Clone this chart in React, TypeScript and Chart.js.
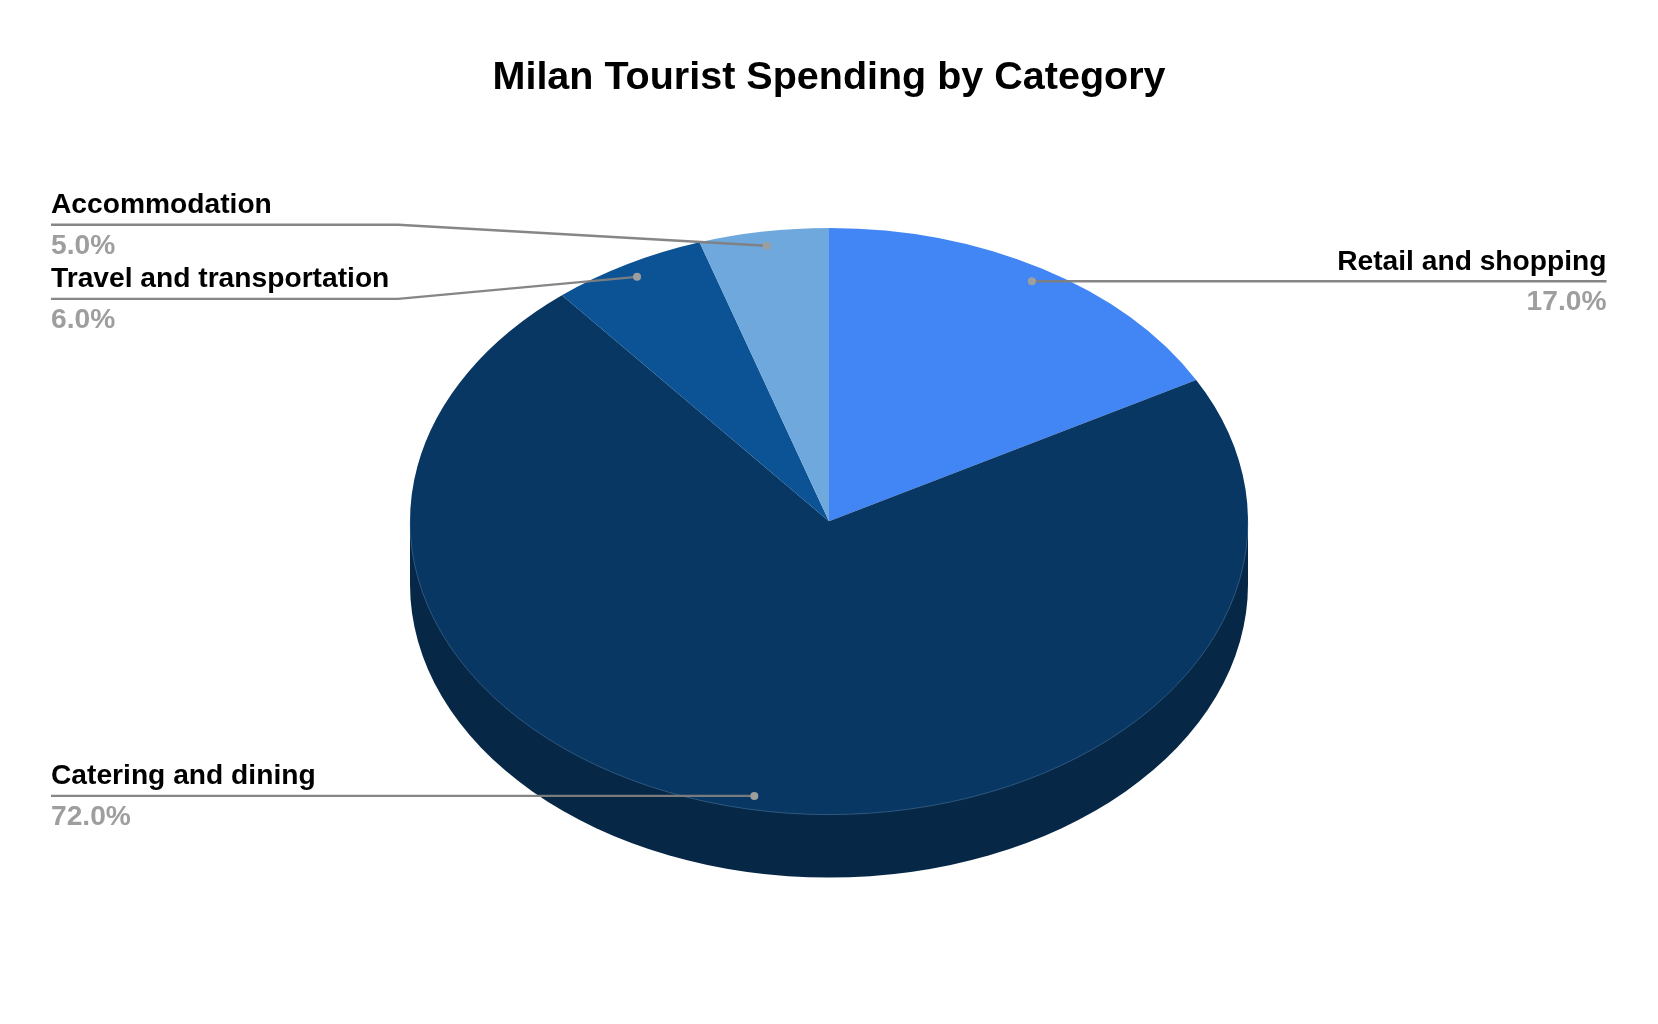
import React, { useEffect, useRef } from "react";
import { Chart, registerables } from "chart.js";

Chart.register(...registerables);

const categories = ["Retail and shopping", "Catering and dining", "Travel and transportation", "Accommodation"];
const shares = [17, 72, 6, 5];
const sliceColors = ["#4285f4", "#083763", "#0b5394", "#6fa8dc"];
const chartTitle = "Milan Tourist Spending by Category";

const FONT = "'Liberation Sans', Arial, sans-serif";
const TILT = 0.7;
const DEPTH = 63;
const CENTER_Y = 521.3;
const SIDE_COLOR = "#062745";
const LEADER_COLOR = "rgba(128,128,128,0.95)";
const DOT_COLOR = "#9e9e9e";
const PERCENT_COLOR = "#9e9e9e";
const ANCHOR_FRACTION = 0.951;
const LEFT_X = 51;
const RIGHT_X = 1606.5;
const ELBOW_X = 398;
// vertical distance from a slice's anchor to its label rule
const ruleOffsets = [0, 0.6, 22, -21];

const pie3d = {
  id: "pie3d",
  beforeDatasetsDraw(chart: any) {
    const arcs = chart.getDatasetMeta(0).data;
    const { x, outerRadius: r } = arcs[0].getProps(["x", "outerRadius"], true);
    const ry = r * TILT;
    const { ctx } = chart;
    ctx.save();
    ctx.fillStyle = SIDE_COLOR;
    ctx.beginPath();
    ctx.moveTo(x - r, CENTER_Y);
    ctx.lineTo(x - r, CENTER_Y + DEPTH);
    ctx.ellipse(x, CENTER_Y + DEPTH, r, ry, 0, Math.PI, 0, true);
    ctx.lineTo(x + r, CENTER_Y);
    ctx.closePath();
    ctx.fill();
    ctx.restore();
    ctx.save();
    const y0 = arcs[0].y;
    ctx.translate(x, CENTER_Y);
    ctx.scale(1, TILT);
    ctx.translate(-x, -y0);
  },
  afterDatasetsDraw(chart: any) {
    const { ctx } = chart;
    ctx.restore();
    const arcs = chart.getDatasetMeta(0).data;
    const first = arcs[0];
    const r = first.outerRadius;
    const x = first.x;
    const ry = r * TILT;
    ctx.save();
    ctx.strokeStyle = "rgba(120,160,200,0.5)";
    ctx.lineWidth = 0.7;
    ctx.beginPath();
    ctx.ellipse(x, CENTER_Y, r, ry, 0, 0, Math.PI);
    ctx.stroke();

    arcs.forEach((arc: any, i: number) => {
      const mid = (arc.startAngle + arc.endAngle) / 2;
      const ax = x + Math.cos(mid) * r * ANCHOR_FRACTION;
      const ay = CENTER_Y + Math.sin(mid) * ry * ANCHOR_FRACTION;
      const ruleY = ay + ruleOffsets[i];
      const onRight = ax > x;
      const edgeX = onRight ? RIGHT_X : LEFT_X;
      ctx.strokeStyle = LEADER_COLOR;
      ctx.lineWidth = 2.4;
      ctx.beginPath();
      ctx.moveTo(ax, ruleY * (Math.abs(ruleOffsets[i]) > 1 ? 0 : 1) + ay * (Math.abs(ruleOffsets[i]) > 1 ? 1 : 0));
      if (Math.abs(ruleOffsets[i]) > 1) ctx.lineTo(ELBOW_X, ruleY);
      ctx.lineTo(edgeX, ruleY);
      ctx.stroke();
      ctx.fillStyle = DOT_COLOR;
      ctx.beginPath();
      ctx.arc(ax, Math.abs(ruleOffsets[i]) > 1 ? ay : ruleY, 4, 0, Math.PI * 2);
      ctx.fill();
      ctx.textAlign = onRight ? "right" : "left";
      ctx.textBaseline = "alphabetic";
      ctx.font = `bold 28.2px ${FONT}`;
      ctx.fillStyle = "#000000";
      ctx.fillText(categories[i], edgeX, ruleY - 11.5);
      ctx.fillStyle = PERCENT_COLOR;
      ctx.fillText(`${shares[i].toFixed(1)}%`, edgeX, ruleY + 29);
    });
    ctx.restore();
  },
};

export default function App() {
  const ref = useRef<HTMLCanvasElement>(null);
  useEffect(() => {
    document.body.style.margin = "0";
    const chart = new Chart(ref.current!, {
      type: "pie",
      data: {
        labels: categories,
        datasets: [{ data: shares, backgroundColor: sliceColors, borderWidth: 0 }],
      },
      options: {
        animation: false,
        responsive: false,
        devicePixelRatio: 1,
        layout: { padding: { left: 410, right: 410, top: 0, bottom: 84 } },
        plugins: {
          legend: { display: false },
          tooltip: { enabled: false },
          title: {
            display: true,
            text: chartTitle,
            color: "#000000",
            font: { family: FONT, size: 39.5, weight: "bold" },
            padding: { top: 54.5, bottom: 0.1 },
          },
        },
      },
      plugins: [pie3d],
    } as any);
    return () => chart.destroy();
  }, []);
  return <canvas ref={ref} width={1658} height={1024} style={{ display: "block" }} />;
}
